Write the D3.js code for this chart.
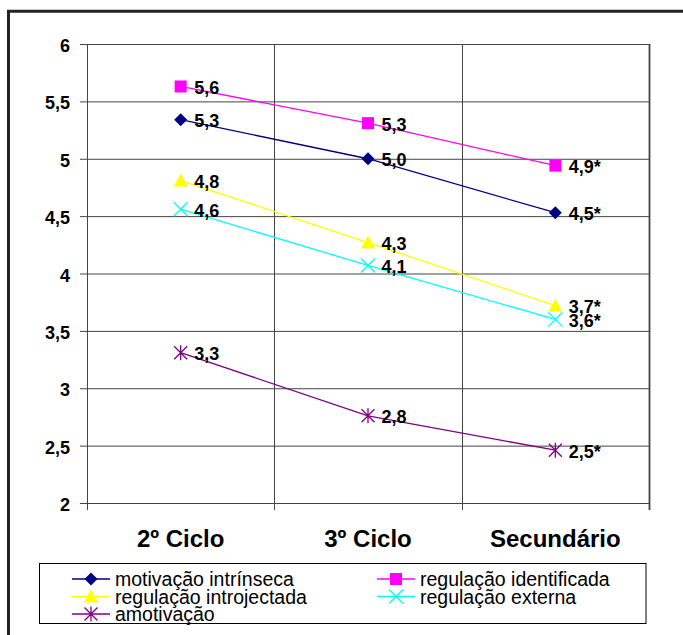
<!DOCTYPE html>
<html>
<head>
<meta charset="utf-8">
<script src="https://cdn.jsdelivr.net/npm/d3@7/dist/d3.min.js"></script>
<style>
  html, body { margin: 0; padding: 0; background: #fff; }
  svg { display: block; font-family: "Liberation Sans", Arial, sans-serif; }
</style>
</head>
<body>
<svg id="chart" width="683" height="635"></svg>
<script>
// Mean motivation scores by school level
const categories = ["2º Ciclo", "3º Ciclo", "Secundário"];
const seriesNames = [
  "motivação intrínseca",
  "regulação identificada",
  "regulação introjectada",
  "regulação externa",
  "amotivação"
];
const motivacaoIntrinseca   = [5.34, 5.00, 4.53];
const regulacaoIdentificada = [5.63, 5.31, 4.94];
const regulacaoIntrojectada = [4.81, 4.27, 3.72];
const regulacaoExterna      = [4.56, 4.07, 3.60];
const amotivacao            = [3.31, 2.76, 2.46];
// significance flag appended to each level's value labels
const significance = ["", "", "*"];
const yTicks = [2, 2.5, 3, 3.5, 4, 4.5, 5, 5.5, 6];

const seriesValues = [motivacaoIntrinseca, regulacaoIdentificada, regulacaoIntrojectada, regulacaoExterna, amotivacao];
const seriesColors = ["#000080", "#FF00FF", "#FFFF00", "#00FFFF", "#800080"];
const seriesMarkers = ["diamond", "square", "triangle", "cross", "asterisk"];

const series = seriesNames.map((name, i) => ({
  name, color: seriesColors[i], marker: seriesMarkers[i],
  points: categories.map((c, j) => ({ cat: c, value: seriesValues[i][j], flag: significance[j] }))
}));

const pt = d3.formatLocale({ decimal: ",", thousands: ".", grouping: [3], currency: ["", "€"] });
const fmtTick = pt.format("~g");
const fmtVal = pt.format(".1f");

const FONT = '"Liberation Sans", Arial, sans-serif';
const svg = d3.select("#chart");
const plot = { left: 87, right: 649, top: 44, bottom: 503 };

const x = d3.scaleBand().domain(categories).range([plot.left, plot.right]).padding(0);
const y = d3.scaleLinear().domain([2, 6]).range([plot.bottom, plot.top]);
const cx = c => x(c) + x.bandwidth() / 2;

// outer frame (top and left edges)
svg.append("line").attr("x1", 7).attr("x2", 683).attr("y1", 11.3).attr("y2", 11.3)
  .attr("stroke", "#222").attr("stroke-width", 3);
svg.append("line").attr("x1", 8.5).attr("x2", 8.5).attr("y1", 10).attr("y2", 635)
  .attr("stroke", "#222").attr("stroke-width", 3);

// horizontal gridlines + y axis
const yAxis = svg.append("g").attr("transform", `translate(${plot.left},0)`)
  .call(d3.axisLeft(y).tickValues(yTicks).tickFormat(fmtTick)
    .tickSizeInner(7).tickSizeOuter(0).tickPadding(10))
  .attr("font-family", FONT).attr("font-size", null);
yAxis.select(".domain").remove();
yAxis.selectAll(".tick line").attr("stroke", "#444").attr("x2", plot.right - plot.left).attr("x1", -7);
yAxis.selectAll(".tick text")
  .attr("fill", "#000").attr("font-size", 18).attr("font-weight", "bold")
  .attr("x", -17).attr("dy", null).attr("y", 7.5);

// vertical gridlines at category boundaries, with ticks below the axis
const bounds = categories.map(c => x(c)).concat([plot.right]);
svg.append("g").selectAll("line").data(bounds).join("line")
  .attr("x1", d => Math.round(d) + 0.5).attr("x2", d => Math.round(d) + 0.5)
  .attr("y1", plot.top).attr("y2", plot.bottom + 7)
  .attr("stroke", "#444").attr("stroke-width", (d, i) => i === bounds.length - 1 ? 1.8 : 1);

// x axis labels
const xAxis = svg.append("g").attr("transform", `translate(0,${plot.bottom})`)
  .call(d3.axisBottom(x).tickSize(0).tickPadding(0))
  .attr("font-family", FONT).attr("font-size", null);
xAxis.select(".domain").remove();
xAxis.selectAll(".tick text")
  .attr("fill", "#000").attr("font-size", 24).attr("font-weight", "bold")
  .attr("dy", null).attr("y", 43.5);

// marker shapes
function drawMarker(g, type, color) {
  switch (type) {
    case "diamond":
      g.append("path").attr("d", "M0,-6.5L6.5,0L0,6.5L-6.5,0Z").attr("fill", color);
      break;
    case "square":
      g.append("rect").attr("x", -6).attr("y", -6).attr("width", 12).attr("height", 12).attr("fill", color);
      break;
    case "triangle":
      g.append("path").attr("d", "M0,-7L7,6L-7,6Z").attr("fill", color);
      break;
    case "cross":
      g.append("path").attr("d", "M-7,-7L7,7M-7,7L7,-7").attr("stroke", color).attr("stroke-width", 1.3).attr("fill", "none");
      break;
    case "asterisk":
      g.append("path").attr("d", "M-6.5,-6.5L6.5,6.5M-6.5,6.5L6.5,-6.5M0,-7.5L0,7.5").attr("stroke", color).attr("stroke-width", 1.3).attr("fill", "none");
      break;
  }
}

const line = d3.line().x(d => cx(d.cat)).y(d => y(d.value));

const sg = svg.append("g").selectAll("g").data(series).join("g");
sg.append("path").attr("d", s => line(s.points))
  .attr("fill", "none").attr("stroke", s => s.color).attr("stroke-width", 1.3);
sg.each(function(s) {
  const g = d3.select(this);
  s.points.forEach(p => {
    const m = g.append("g").attr("transform", `translate(${cx(p.cat)},${y(p.value)})`);
    drawMarker(m, s.marker, s.color);
  });
});
// value labels
sg.each(function(s) {
  d3.select(this).selectAll("text.val").data(s.points).join("text")
    .attr("class", "val")
    .attr("x", d => cx(d.cat) + 13.5).attr("y", d => y(d.value) + 7.5)
    .attr("font-size", 18).attr("font-weight", "bold").attr("fill", "#000")
    .text(d => fmtVal(d.value) + d.flag);
});

// legend
const legend = svg.append("g");
legend.append("rect").attr("x", 39.5).attr("y", 563.5).attr("width", 606.5).attr("height", 60)
  .attr("fill", "#fff").attr("stroke", "#000").attr("stroke-width", 1);
const colX = [72, 377];
const rowY = [579, 596.5, 614];
series.forEach((s, i) => {
  const g = legend.append("g").attr("transform", `translate(${colX[i % 2]},${rowY[Math.floor(i / 2)]})`);
  g.append("line").attr("x1", 0).attr("x2", 38).attr("y1", 0).attr("y2", 0)
    .attr("stroke", s.color).attr("stroke-width", 1.3);
  const m = g.append("g").attr("transform", "translate(19,0)");
  drawMarker(m, s.marker, s.color);
  g.append("text").attr("x", 43).attr("y", 7).attr("font-size", 19.5).attr("fill", "#000").text(s.name);
});
</script>
</body>
</html>
